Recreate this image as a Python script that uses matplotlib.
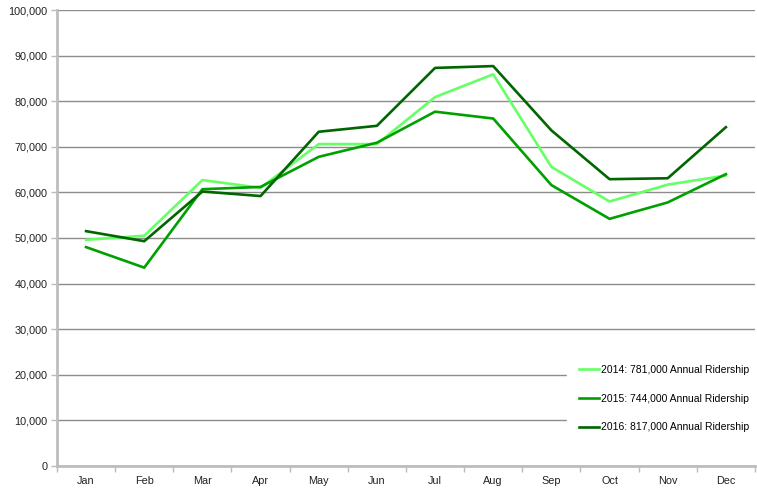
import matplotlib.pyplot as plt
from matplotlib.ticker import FuncFormatter

plt.rcParams["font.family"] = ["Liberation Sans", "DejaVu Sans"]

months = ["Jan", "Feb", "Mar", "Apr", "May", "Jun", "Jul", "Aug", "Sep", "Oct", "Nov", "Dec"]
riders_2014 = [49600, 50500, 62700, 61000, 70600, 70600, 80900, 85900, 65600, 58000, 61700, 63700]
riders_2015 = [48000, 43500, 60700, 61200, 67800, 70900, 77700, 76200, 61600, 54200, 57800, 64000]
riders_2016 = [51500, 49300, 60200, 59200, 73300, 74600, 87300, 87700, 73600, 62900, 63100, 74300]
labels = [
    "2014: 781,000 Annual Ridership",
    "2015: 744,000 Annual Ridership",
    "2016: 817,000 Annual Ridership",
]
colors = ["#66ff66", "#00a000", "#006600"]

fig = plt.figure(figsize=(7.57, 4.88), dpi=100, facecolor="white")
ax = fig.add_axes([0.0753, 0.0451, 0.922, 0.9344])

x = range(len(months))
for vals, lab, col in zip([riders_2014, riders_2015, riders_2016], labels, colors):
    ax.plot(x, vals, color=col, linewidth=1.9, label=lab, zorder=3)

ax.set_xlim(-0.5, len(months) - 0.5)
ax.set_ylim(0, 100000)
ax.set_yticks(range(0, 100001, 10000))
ax.yaxis.set_major_formatter(FuncFormatter(lambda v, p: f"{int(v):,}"))
ax.set_xticks(list(x))
ax.set_xticklabels(months)
ax.set_xticks([i - 0.5 for i in range(len(months) + 1)], minor=True)
ax.tick_params(axis="x", which="major", length=0, pad=7.5, labelsize=7.8, labelcolor="#222222")
ax.tick_params(axis="x", which="minor", length=4, color="#bbbbbb", width=1)
ax.tick_params(axis="y", length=4, color="#bbbbbb", width=1, labelsize=7.8, labelcolor="#222222", pad=3)

ax.grid(axis="y", color="#8c8c8c", linewidth=1, zorder=0)
ax.set_axisbelow(True)
for side in ["top", "right"]:
    ax.spines[side].set_visible(False)
for side in ["left", "bottom"]:
    ax.spines[side].set_color("#bdbdbd")
    ax.spines[side].set_linewidth(2)

leg = ax.legend(
    loc="upper left",
    bbox_to_anchor=(0.7307, 0.248),
    borderaxespad=0,
    frameon=True,
    fancybox=False,
    facecolor="white",
    edgecolor="white",
    framealpha=1,
    fontsize=7.5,
    handlelength=1.95,
    handletextpad=0.2,
    labelspacing=1.8,
    borderpad=1.15,
)
leg.set_zorder(5)

plt.savefig("out.png", dpi=100)
plt.close()
